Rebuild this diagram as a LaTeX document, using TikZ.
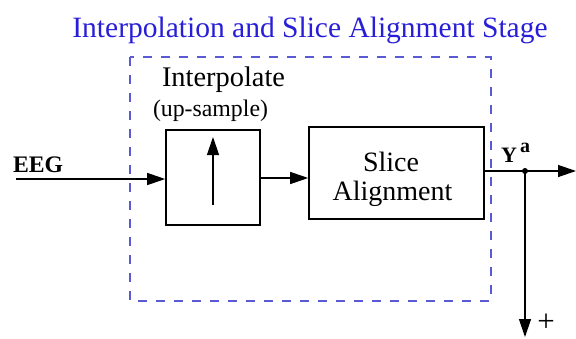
\documentclass[tikz,border=0pt]{standalone}
\usepackage{fontspec}
\setmainfont{Liberation Serif}
\usetikzlibrary{arrows.meta}
\definecolor{titleblue}{RGB}{40,30,215}
\definecolor{dashblue}{RGB}{90,90,210}
\begin{document}
\begin{tikzpicture}[x=1pt,y=-1pt,
  blockbox/.style={draw, line width=1.6pt, inner sep=0pt},
  conn/.style={line width=1.3pt, -{Triangle[length=18pt,width=12pt]}},
  stagebox/.style={draw=dashblue, dash pattern=on 9pt off 9pt, line width=1.3pt},
  lbl/.style={inner sep=0pt, outer sep=0pt}]
\useasboundingbox (0,0) rectangle (576,338);
\node[lbl, text=titleblue, font=\fontsize{29.5}{32}\selectfont, anchor=base] (title) at (310,37) {Interpolation and Slice Alignment Stage};
\draw[stagebox] (130,57) rectangle (491,301);
\node[lbl, font=\fontsize{28.4}{32}\selectfont, anchor=base west] (interp) at (162,86) {Interpolate};
\node[lbl, font=\fontsize{23.8}{26}\selectfont, anchor=base west] (upsample) at (153,116) {(up-sample)};
\node[blockbox, minimum width=94pt, minimum height=95pt] (ibox) at (213,177.5) {};
\node[blockbox, minimum width=175pt, minimum height=92pt] (sbox) at (396.5,173) {};
\node[lbl, font=\fontsize{28}{30}\selectfont, anchor=base] (slice) at (391,171.5) {Slice};
\node[lbl, font=\fontsize{28}{30}\selectfont, anchor=base] (align) at (392.5,200) {Alignment};
\coordinate (ein) at (16,179);
\node[lbl, font=\fontsize{23.7}{26}\selectfont\bfseries, anchor=base west] (eeg) at (13,172) {EEG};
\draw[conn] (ein) -- (ibox.west |- ein);
\coordinate (ua) at (213,205);
\coordinate (ub) at (213,137);
\draw[conn] (ua) -- (ub);
\draw[conn] (ibox.east |- 0,178) -- (sbox.west |- 0,178);
\coordinate (junc) at (525,171);
\coordinate (outr) at (576,171);
\coordinate (outd) at (525,337);
\draw[line width=1.3pt] (sbox.east |- junc) -- (junc);
\draw[conn] (junc) -- (outr);
\draw[conn] (junc) -- (outd);
\fill (junc) circle (3pt);
\node[lbl, font=\fontsize{22}{24}\selectfont\bfseries, anchor=base west] (ya) at (501,162) {Y};
\node[lbl, font=\fontsize{20}{24}\selectfont\bfseries, anchor=base west] (yasup) at (520,152) {a};
\node[lbl, font=\fontsize{31}{33}\selectfont, anchor=base] (plus) at (546,331) {+};
\end{tikzpicture}
\end{document}
